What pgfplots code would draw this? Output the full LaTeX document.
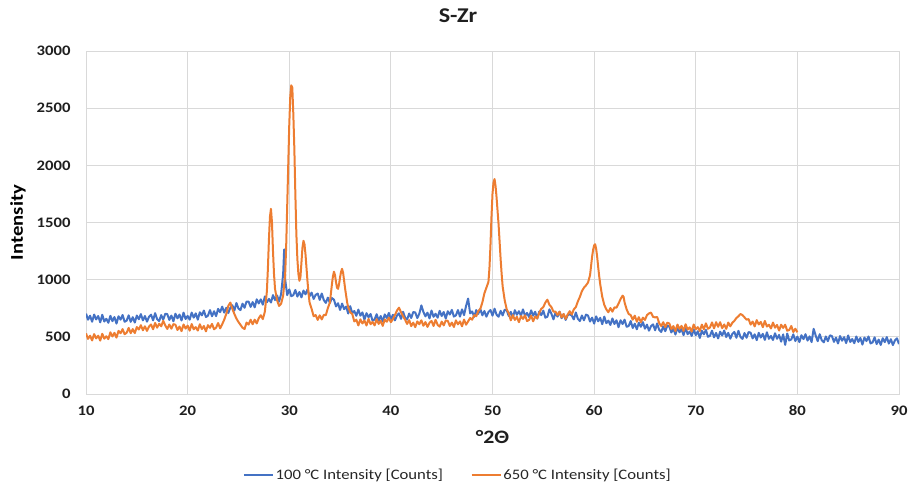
\documentclass[border=0pt]{standalone}
\usepackage{pgfplots}
\pgfplotsset{compat=1.18}
\usepackage{fontspec}
\setmainfont{Carlito}[FakeStretch=1.15]
\definecolor{xblue}{HTML}{4472C4}
\definecolor{xorange}{HTML}{ED7D31}
\definecolor{gridgray}{HTML}{D9D9D9}
\begin{document}
\begin{tikzpicture}[x=1pt,y=1pt]
\useasboundingbox (0,0) rectangle (909,483);
\begin{axis}[
  at={(86pt,89pt)}, anchor=south west,
  scale only axis, width=813pt, height=343pt,
  xmin=10, xmax=90, ymin=0, ymax=3000,
  xtick={10,20,...,90}, ytick={0,500,...,3000},
  grid=major,
  major grid style={gridgray, line width=0.8pt},
  axis line style={gridgray, line width=0.8pt},
  tick style={draw=none},
  /pgf/number format/assume math mode=true,
  /pgf/number format/1000 sep={},
  ticklabel style={font=\fontsize{14.5}{16}\selectfont\bfseries, text=black!88},
  xticklabel style={yshift=-8pt},
  yticklabel style={xshift=-12pt},
  title={S-Zr},
  title style={font=\fontsize{21}{24}\selectfont\bfseries, text=black!88,
    at={(0.4576,1.0854)}, anchor=center},
  xlabel={°2Θ},
  xlabel style={font=\fontsize{19}{22}\selectfont\bfseries, text=black!88,
    at={(0.5,-0.124)}, anchor=center},
  ylabel={Intensity},
  ylabel style={font=\fontsize{18}{21}\selectfont\bfseries, text=black,
    at={(-0.0836,0.5)}, anchor=center, rotate=0},
  legend columns=2,
  legend style={draw=none, fill=none, at={(0.4576,-0.236)}, anchor=center,
    font=\fontsize{14.5}{16}\selectfont, text=black!85,
    /tikz/every even column/.append style={column sep=26pt}},
  legend image code/.code={\draw[#1, line width=1.4pt] (0pt,0pt) -- (29pt,0pt);},
]
% 100 C scan
\addplot[xblue, line width=2pt, line join=round] coordinates {
(10.0,703)(10.2,650)(10.4,685)(10.6,632)(10.8,695)(11.0,652)(11.2,682)(11.4,627)(11.6,693)(11.8,634)
(12.0,658)(12.2,623)(12.4,684)(12.6,637)(12.8,673)(13.0,616)(13.2,680)(13.4,650)(13.6,691)(13.8,632)
(14.0,642)(14.2,688)(14.4,631)(14.6,672)(14.8,625)(15.0,686)(15.2,654)(15.4,699)(15.6,644)(15.8,682)
(16.0,633)(16.2,675)(16.4,694)(16.6,644)(16.8,707)(17.0,655)(17.2,638)(17.4,690)(17.6,651)(17.8,702)
(18.0,698)(18.2,648)(18.4,686)(18.6,636)(18.8,702)(19.0,662)(19.2,695)(19.4,643)(19.6,712)(19.8,656)
(20.0,683)(20.2,650)(20.4,712)(20.6,668)(20.8,705)(21.0,650)(21.2,715)(21.4,688)(21.6,730)(21.8,673)
(22.0,685)(22.2,734)(22.4,680)(22.6,724)(22.8,681)(23.0,745)(23.2,716)(23.4,764)(23.6,712)(23.8,754)
(24.0,708)(24.2,754)(24.4,776)(24.6,730)(24.8,796)(25.0,748)(25.2,734)(25.4,790)(25.6,754)(25.8,809)
(26.0,808)(26.2,762)(26.4,804)(26.6,758)(26.8,828)(27.0,792)(27.2,828)(27.4,781)(27.6,853)(27.8,802)
(28.0,832)(28.2,800)(28.4,865)(28.6,822)(28.8,862)(29.0,808)(29.2,875)(29.4,1050)(29.5,1265)(29.6,1000)
(29.8,865)(30.0,915)(30.2,855)(30.4,865)(30.6,910)(30.8,852)(31.0,892)(31.2,845)(31.4,905)(31.6,872)
(31.8,916)(32.0,855)(32.2,887)(32.4,831)(32.6,867)(32.8,879)(33.0,823)(33.2,879)(33.4,821)(33.6,797)
(33.8,843)(34.0,797)(34.2,839)(34.4,825)(34.6,766)(34.8,794)(35.0,735)(35.2,791)(35.4,742)(35.6,765)
(35.8,704)(36.0,768)(36.2,706)(36.4,726)(36.6,684)(36.8,738)(37.0,685)(37.2,714)(37.4,650)(37.6,707)
(37.8,671)(38.0,700)(38.2,641)(38.4,652)(38.6,698)(38.8,641)(39.0,682)(39.2,635)(39.4,696)(39.6,664)
(39.8,709)(40.0,654)(40.2,693)(40.4,644)(40.6,687)(40.8,706)(41.0,657)(41.2,719)(41.4,668)(41.6,651)
(41.8,704)(42.0,665)(42.2,717)(42.4,713)(42.6,664)(42.8,702)(43.0,775)(43.2,718)(43.4,679)(43.6,712)
(43.8,661)(44.0,730)(44.2,675)(44.4,702)(44.6,667)(44.8,728)(45.0,682)(45.2,717)(45.4,660)(45.6,724)
(45.8,695)(46.0,736)(46.2,677)(46.4,688)(46.6,734)(46.8,677)(47.0,740)(47.2,690)(47.4,770)(47.6,835)
(47.8,705)(48.0,722)(48.2,675)(48.4,734)(48.6,701)(48.8,745)(49.0,688)(49.2,726)(49.4,676)(49.6,717)
(49.8,735)(50.0,685)(50.2,746)(50.4,694)(50.6,676)(50.8,727)(51.0,687)(51.2,738)(51.4,732)(51.6,682)
(51.8,719)(52.0,668)(52.2,733)(52.4,693)(52.6,724)(52.8,684)(53.0,740)(53.2,683)(53.4,709)(53.6,673)
(53.8,732)(54.0,685)(54.2,719)(54.4,660)(54.6,721)(54.8,690)(55.0,729)(55.2,668)(55.4,676)(55.6,740)
(55.8,701)(56.0,653)(56.2,711)(56.4,677)(56.6,720)(56.8,663)(57.0,699)(57.2,648)(57.4,689)(57.6,698)
(57.8,686)(58.0,653)(58.2,713)(58.4,658)(58.6,638)(58.8,687)(59.0,645)(59.2,694)(59.4,686)(59.6,634)
(59.8,668)(60.0,616)(60.2,679)(60.4,636)(60.6,666)(60.8,611)(61.0,677)(61.2,619)(61.4,642)(61.6,604)
(61.8,661)(62.0,612)(62.2,645)(62.4,584)(62.6,645)(62.8,612)(63.0,650)(63.2,588)(63.4,595)(63.6,638)
(63.8,577)(64.0,615)(64.2,566)(64.4,623)(64.6,588)(64.8,629)(65.0,571)(65.2,607)(65.4,554)(65.6,594)
(65.8,609)(66.0,557)(66.2,617)(66.4,562)(66.6,542)(66.8,591)(67.0,549)(67.2,598)(67.4,590)(67.6,538)
(67.8,572)(68.0,520)(68.2,583)(68.4,540)(68.6,570)(68.8,515)(69.0,581)(69.2,523)(69.4,546)(69.6,508)
(69.8,565)(70.0,515)(70.2,549)(70.4,490)(70.6,553)(70.8,522)(71.0,561)(71.2,500)(71.4,509)(71.6,554)
(71.8,495)(72.0,534)(72.2,486)(72.4,545)(72.6,512)(72.8,555)(73.0,498)(73.2,535)(73.4,484)(73.6,526)
(73.8,543)(74.0,492)(74.2,553)(74.4,500)(74.6,482)(74.8,533)(75.0,492)(75.2,542)(75.4,536)(75.6,486)
(75.8,522)(76.0,471)(76.2,535)(76.4,494)(76.6,526)(76.8,473)(77.0,540)(77.2,483)(77.4,508)(77.6,472)
(77.8,531)(78.0,483)(78.2,517)(78.4,458)(78.6,521)(78.8,430)(79.0,529)(79.2,468)(79.4,477)(79.6,522)
(79.8,463)(80.0,502)(80.2,454)(80.4,514)(80.6,480)(80.8,523)(81.0,467)(81.2,504)(81.4,454)(81.6,570)
(81.8,512)(82.0,462)(82.2,523)(82.4,470)(82.6,452)(82.8,503)(83.0,462)(83.2,513)(83.4,507)(83.6,456)
(83.8,493)(84.0,442)(84.2,507)(84.4,466)(84.6,497)(84.8,445)(85.0,512)(85.2,455)(85.4,481)(85.6,444)
(85.8,503)(86.0,456)(86.2,490)(86.4,432)(86.6,494)(86.8,463)(87.0,503)(87.2,442)(87.4,451)(87.6,496)
(87.8,437)(88.0,476)(88.2,429)(88.4,488)(88.6,454)(88.8,498)(89.0,441)(89.2,479)(89.4,428)(89.6,469)
(89.8,487)(90.0,436)
};
\addlegendentry{100 °C Intensity [Counts]}
% 650 C scan
\addplot[xorange, line width=2pt, line join=round] coordinates {
(10.0,530)(10.2,482)(10.4,510)(10.6,468)(10.8,524)(11.0,486)(11.2,510)(11.4,467)(11.6,527)(11.8,484)
(12.0,505)(12.2,480)(12.4,540)(12.6,503)(12.8,535)(13.0,493)(13.2,552)(13.4,532)(13.6,568)(13.8,523)
(14.0,536)(14.2,578)(14.4,532)(14.6,568)(14.8,533)(15.0,586)(15.2,564)(15.4,602)(15.6,557)(15.8,592)
(16.0,552)(16.2,590)(16.4,608)(16.6,566)(16.8,622)(17.0,580)(17.2,615)(17.4,592)(17.6,640)(17.8,600)
(18.0,569)(18.2,608)(18.4,571)(18.6,611)(18.8,606)(19.0,560)(19.2,590)(19.4,550)(19.6,608)(19.8,572)
(20.0,598)(20.2,554)(20.4,612)(20.6,566)(20.8,585)(21.0,555)(21.2,610)(21.4,568)(21.6,595)(21.8,548)
(22.0,602)(22.2,579)(22.4,613)(22.6,566)(22.8,580)(23.0,621)(23.2,574)(23.4,610)(23.6,650)(23.8,700)
(24.0,770)(24.2,800)(24.4,745)(24.6,700)(24.8,660)(25.0,630)(25.2,605)(25.4,580)(25.6,568)(25.8,625)
(26.0,607)(26.2,650)(26.4,610)(26.6,650)(26.8,617)(27.0,663)(27.2,689)(27.4,655)(27.6,720)(27.8,900)
(27.9,1100)(28.0,1350)(28.1,1550)(28.2,1620)(28.3,1500)(28.4,1250)(28.5,1050)(28.6,920)(28.8,820)(29.0,770)
(29.2,790)(29.4,860)(29.6,1050)(29.7,1300)(29.8,1650)(29.9,2000)(30.0,2350)(30.1,2600)(30.2,2700)(30.3,2680)
(30.4,2450)(30.5,2150)(30.6,1750)(30.7,1400)(30.8,1180)(30.9,1050)(31.0,990)(31.1,1020)(31.2,1150)(31.3,1280)
(31.4,1340)(31.5,1310)(31.6,1220)(31.7,1100)(31.8,980)(31.9,880)(32.0,800)(32.2,745)(32.4,680)(32.6,690)
(32.8,648)(33.0,688)(33.2,652)(33.4,692)(33.6,690)(33.8,752)(34.0,800)(34.1,880)(34.2,960)(34.3,1030)
(34.4,1070)(34.5,1040)(34.6,980)(34.7,930)(34.8,920)(34.9,960)(35.0,1020)(35.1,1070)(35.2,1095)(35.3,1060)
(35.4,990)(35.5,920)(35.6,860)(35.7,800)(35.8,760)(36.0,715)(36.2,700)(36.4,635)(36.6,650)(36.8,600)
(37.0,653)(37.2,617)(37.4,643)(37.6,599)(37.8,657)(38.0,611)(38.2,630)(38.4,600)(38.6,655)(38.8,613)
(39.0,640)(39.2,596)(39.4,652)(39.6,632)(39.8,668)(40.0,628)(40.2,655)(40.4,690)(40.6,730)(40.8,755)
(41.0,715)(41.2,680)(41.4,650)(41.6,613)(41.8,646)(42.0,594)(42.2,624)(42.4,585)(42.6,635)(42.8,610)
(43.0,645)(43.2,597)(43.4,629)(43.6,587)(43.8,623)(44.0,639)(44.2,595)(44.4,649)(44.6,605)(44.8,589)
(45.0,633)(45.2,600)(45.4,643)(45.6,640)(45.8,595)(46.0,625)(46.2,586)(46.4,644)(46.6,609)(46.8,635)
(47.0,592)(47.2,651)(47.4,606)(47.6,635)(47.8,665)(48.0,650)(48.2,690)(48.4,680)(48.6,725)(48.8,745)
(49.0,800)(49.2,880)(49.4,930)(49.6,980)(49.7,1100)(49.8,1300)(49.9,1550)(50.0,1750)(50.1,1850)(50.2,1880)
(50.3,1820)(50.4,1720)(50.5,1600)(50.6,1480)(50.7,1330)(50.8,1180)(50.9,1050)(51.0,940)(51.2,820)(51.4,740)
(51.6,705)(51.8,645)(52.0,690)(52.2,648)(52.4,675)(52.6,628)(52.8,682)(53.0,657)(53.2,688)(53.4,638)
(53.6,648)(53.8,686)(54.0,636)(54.2,678)(54.4,660)(54.6,710)(54.8,745)(55.0,760)(55.2,800)(55.4,825)
(55.6,780)(55.8,760)(56.0,720)(56.2,720)(56.4,690)(56.6,720)(56.8,670)(57.0,700)(57.2,657)(57.4,696)
(57.6,724)(57.8,695)(58.0,740)(58.2,760)(58.4,810)(58.6,850)(58.8,900)(59.0,930)(59.2,950)(59.4,975)
(59.6,1040)(59.7,1120)(59.8,1200)(59.9,1260)(60.0,1300)(60.1,1310)(60.2,1270)(60.3,1200)(60.4,1110)(60.5,1030)
(60.6,960)(60.8,850)(61.0,780)(61.2,740)(61.4,715)(61.6,752)(61.8,720)(62.0,758)(62.2,755)(62.4,790)
(62.6,830)(62.8,860)(62.9,850)(63.0,800)(63.2,740)(63.4,700)(63.6,690)(63.8,650)(64.0,685)(64.2,632)
(64.4,672)(64.6,628)(64.8,668)(65.0,648)(65.2,690)(65.4,705)(65.6,712)(65.8,675)(66.0,670)(66.2,674)
(66.4,620)(66.6,594)(66.8,628)(67.0,585)(67.2,624)(67.4,617)(67.6,568)(67.8,594)(68.0,550)(68.2,607)
(68.4,570)(68.6,596)(68.8,552)(69.0,610)(69.2,564)(69.4,583)(69.6,546)(69.8,608)(70.0,566)(70.2,585)
(70.4,551)(70.6,607)(70.8,566)(71.0,618)(71.2,570)(71.4,582)(71.6,626)(71.8,574)(72.0,628)(72.2,588)
(72.4,628)(72.6,576)(72.8,608)(73.0,570)(73.2,625)(73.4,592)(73.6,623)(73.8,640)(74.0,665)(74.2,680)
(74.4,700)(74.6,690)(74.8,670)(75.0,650)(75.2,655)(75.4,607)(75.6,634)(75.8,591)(76.0,646)(76.2,608)
(76.4,631)(76.6,584)(76.8,639)(77.0,590)(77.2,606)(77.4,573)(77.6,625)(77.8,580)(78.0,604)(78.2,555)
(78.4,606)(78.6,578)(78.8,606)(79.0,553)(79.2,560)(79.4,595)(79.6,542)(79.8,571)(80.0,540)
};
\addlegendentry{650 °C Intensity [Counts]}
\end{axis}
\end{tikzpicture}
\end{document}
